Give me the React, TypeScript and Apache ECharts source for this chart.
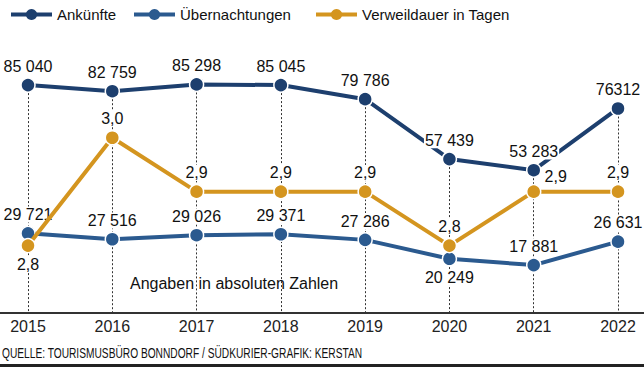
import React, { useEffect, useRef } from "react";
import * as echarts from "echarts";

const years = ["2015", "2016", "2017", "2018", "2019", "2020", "2021", "2022"];
const ankuenfte = [85040, 82759, 85298, 85045, 79786, 57439, 53283, 76312];
const ankuenfteLabels = ["85 040", "82 759", "85 298", "85 045", "79 786", "57 439", "53 283", "76312"];
const uebernachtungen = [29721, 27516, 29026, 29371, 27286, 20249, 17881, 26631];
const uebernachtungenLabels = ["29 721", "27 516", "29 026", "29 371", "27 286", "20 249", "17 881", "26 631"];
const verweildauer = [2.8, 3.0, 2.9, 2.9, 2.9, 2.8, 2.9, 2.9];
const verweildauerLabels = ["2,8", "3,0", "2,9", "2,9", "2,9", "2,8", "2,9", "2,9"];
const belowUeber = [5]; // index with label below
const belowVerweil = [0];
const shiftedVerweil = [6]; // label moved right of the guide line

const NAVY = "#1d3f6e";
const BLUE = "#2b5a8f";
const GOLD = "#d4951f";
const FONT = "'Liberation Sans', Arial, sans-serif";

export default function App() {
  const ref = useRef<HTMLDivElement>(null);
  useEffect(() => {
    if (!ref.current) return;
    const chart = echarts.init(ref.current, undefined, { renderer: "svg" });
    const lbl = (text: string, below: boolean, shift: boolean) => ({
      show: true,
      position: below ? "bottom" : "top",
      distance: 3,
      offset: shift ? [22, 4] : [0, 0],
      formatter: text,
      color: "#111",
      fontSize: 16,
      fontFamily: FONT,
      backgroundColor: "#fff",
      padding: [0, 1],
    });
    const mkData = (vals: number[], texts: string[], below: number[], shifted: number[] = []) =>
      vals.map((v, i) => ({ value: v, label: lbl(texts[i], below.includes(i), shifted.includes(i)) }));
    const common = {
      type: "line",
      symbol: "circle",
      symbolSize: 14,
      lineStyle: { width: 4 },
      itemStyle: { borderColor: "#fff", borderWidth: 1.5 },
      emphasis: { disabled: true },
    };
    chart.setOption({
      animation: false,
      backgroundColor: "#fff",
      grid: { left: 28, right: 26, top: 45, bottom: 54 },
      legend: [
        { data: ["Ankünfte"], left: 4, top: 2 },
        { data: ["Übernachtungen"], left: 127, top: 2 },
        { data: ["Verweildauer in Tagen"], left: 309, top: 2 },
      ].map((l) => ({
        ...l,
        itemWidth: 41,
        itemHeight: 14,
        itemGap: 10,
        selectedMode: false,
        lineStyle: { width: 4 },
        itemStyle: { borderWidth: 0 },
        textStyle: { fontSize: 15, color: "#111", fontFamily: FONT, padding: [0, 0, 0, 0] },
      })),
      xAxis: {
        type: "category",
        data: years,
        boundaryGap: false,
        axisLine: { show: false },
        axisTick: { show: false },
        axisLabel: { color: "#222", fontSize: 16, fontFamily: FONT, margin: 5 },
        splitLine: { show: false },
      },
      yAxis: [
        { type: "value", min: 0, max: 100000, show: false, splitLine: { show: false } },
        { type: "value", min: 2.675, max: 3.172, show: false, splitLine: { show: false } },
      ],
      series: [
        {
          type: "line",
          name: "guides",
          data: ankuenfte,
          symbol: "none",
          lineStyle: { opacity: 0 },
          z: 1,
          silent: true,
          markLine: {
            silent: true,
            z: 1,
            symbol: "none",
            label: { show: false },
            lineStyle: { color: "#333", width: 1, type: [2, 2] },
            data: ankuenfte.map((v, i) => [
              { coord: [i, v] },
              { coord: [i, 0] },
            ]),
          },
        },
        {
          ...common,
          name: "Ankünfte",
          color: NAVY,
          z: 3,
          data: mkData(ankuenfte, ankuenfteLabels, []),
        },
        {
          ...common,
          name: "Übernachtungen",
          color: BLUE,
          z: 3,
          data: mkData(uebernachtungen, uebernachtungenLabels, belowUeber),
        },
        {
          ...common,
          name: "Verweildauer in Tagen",
          color: GOLD,
          yAxisIndex: 1,
          z: 4,
          data: mkData(verweildauer, verweildauerLabels, belowVerweil, shiftedVerweil),
        },
      ],
      graphic: [
        {
          type: "line",
          shape: { x1: 0, y1: 313, x2: 644, y2: 313 },
          style: { stroke: "#333", lineWidth: 2 },
          z: 10,
        },
        {
          type: "text",
          left: 130,
          top: 275,
          style: { text: "Angaben in absoluten Zahlen", fontSize: 16, fill: "#111", fontFamily: FONT },
        },
        {
          type: "text",
          x: 2,
          y: 345,
          scaleX: 0.68,
          style: {
            text: "QUELLE: TOURISMUSBÜRO BONNDORF / SÜDKURIER-GRAFIK: KERSTAN",
            fontSize: 15,
            fill: "#111",
            fontFamily: FONT,
          },
        },
        {
          type: "rect",
          shape: { x: 0, y: 364, width: 644, height: 3 },
          style: { fill: "#222" },
        },
      ],
    });
    return () => chart.dispose();
  }, []);
  return (
    <div
      ref={ref}
      style={{ position: "fixed", left: 0, top: 0, width: 644, height: 367 }}
    />
  );
}
